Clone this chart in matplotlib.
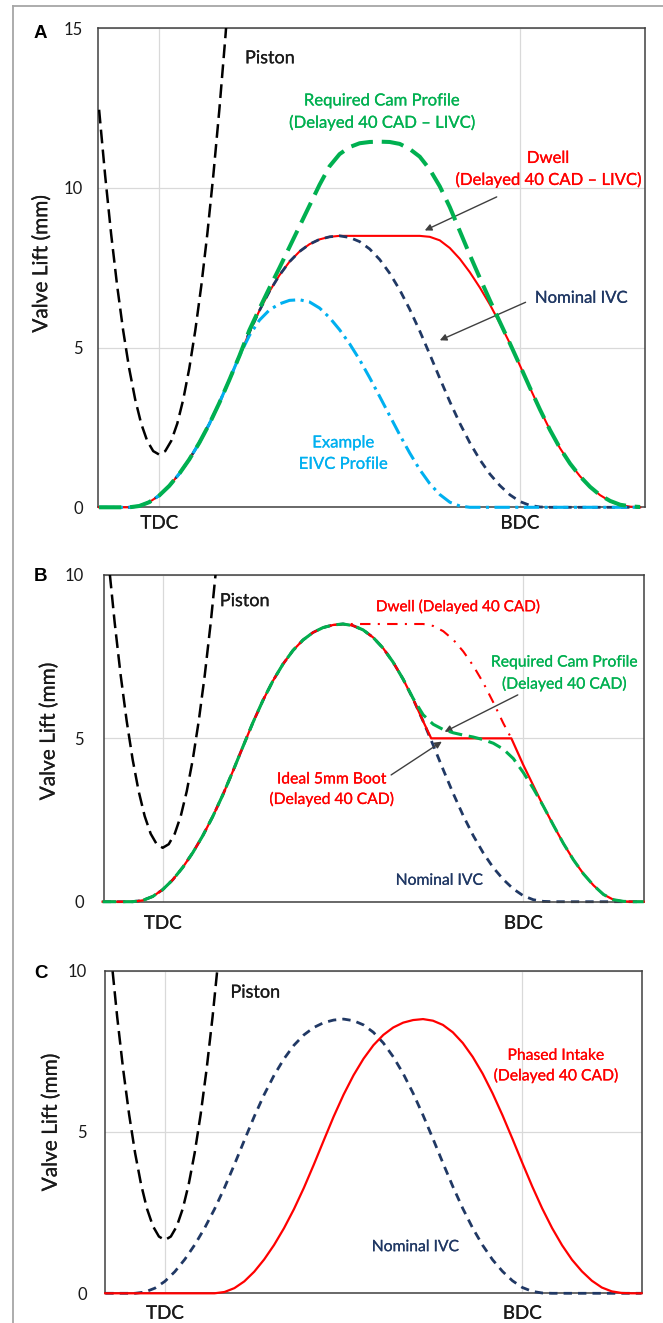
import matplotlib
matplotlib.use("Agg")
import matplotlib.pyplot as plt
import matplotlib.patheffects as pe
from matplotlib.lines import Line2D
from matplotlib.transforms import blended_transform_factory

# crank angle grid (CAD), TDC = 360, BDC = 540
cad = [330, 335, 340, 345, 350, 355, 360, 365, 370, 375,
       380, 385, 390, 395, 400, 405, 410, 415, 420, 425,
       430, 435, 440, 445, 450, 455, 460, 465, 470, 475,
       480, 485, 490, 495, 500, 505, 510, 515, 520, 525,
       530, 535, 540, 545, 550, 555, 560, 565, 570, 575,
       580, 585, 590, 595, 600]

nominal_ivc = [0, 0, 0, 0, 0.04, 0.16, 0.37, 0.67, 1.05, 1.50,
               2.02, 2.61, 3.27, 3.99, 4.74, 5.48, 6.16, 6.76, 7.27, 7.69,
               8.01, 8.24, 8.39, 8.47, 8.50, 8.45, 8.32, 8.09, 7.76, 7.33,
               6.81, 6.20, 5.52, 4.79, 4.04, 3.31, 2.63, 2.02, 1.49, 1.04,
               0.68, 0.39, 0.18, 0.06, 0.01, 0, 0, 0, 0, 0,
               0, 0, 0, 0, 0]

dwell_livc = [0, 0, 0, 0, 0.04, 0.16, 0.37, 0.67, 1.05, 1.50,
              2.02, 2.61, 3.27, 3.99, 4.74, 5.48, 6.16, 6.76, 7.27, 7.69,
              8.01, 8.24, 8.39, 8.47, 8.50, 8.50, 8.50, 8.50, 8.50, 8.50,
              8.50, 8.50, 8.50, 8.47, 8.36, 8.12, 7.78, 7.36, 6.88, 6.35,
              5.76, 5.13, 4.44, 3.74, 3.06, 2.42, 1.85, 1.37, 0.97, 0.64,
              0.38, 0.19, 0.07, 0.02, 0]

required_livc = [0, 0, 0, 0, 0.04, 0.16, 0.37, 0.67, 1.05, 1.50,
                 2.02, 2.61, 3.27, 3.99, 4.74, 5.55, 6.22, 6.87, 7.50, 8.15,
                 8.80, 9.45, 10.10, 10.68, 11.06, 11.28, 11.40, 11.44, 11.45, 11.44,
                 11.38, 11.22, 10.98, 10.58, 10.05, 9.40, 8.65, 7.90, 7.18, 6.48,
                 5.80, 5.13, 4.44, 3.74, 3.06, 2.42, 1.85, 1.37, 0.97, 0.64,
                 0.38, 0.20, 0.08, 0.03, 0.01]

eivc = [0, 0, 0, 0, 0.04, 0.16, 0.37, 0.67, 1.05, 1.50,
        2.02, 2.61, 3.27, 3.99, 4.74, 5.38, 5.86, 6.18, 6.37, 6.48,
        6.50, 6.43, 6.24, 5.94, 5.56, 5.12, 4.62, 4.06, 3.47, 2.87,
        2.27, 1.70, 1.18, 0.74, 0.40, 0.16, 0.04, 0, 0, 0,
        0, 0, 0, 0, 0, 0, 0, 0, 0, 0,
        0, 0, 0, 0, 0]

required_boot = [0, 0, 0, 0, 0.04, 0.16, 0.37, 0.67, 1.05, 1.50,
                 2.02, 2.61, 3.27, 3.99, 4.74, 5.48, 6.16, 6.76, 7.27, 7.69,
                 8.01, 8.24, 8.39, 8.47, 8.50, 8.45, 8.32, 8.09, 7.76, 7.33,
                 6.81, 6.22, 5.72, 5.43, 5.27, 5.17, 5.10, 5.04, 4.96, 4.85,
                 4.67, 4.38, 3.95, 3.46, 2.92, 2.34, 1.78, 1.28, 0.85, 0.50,
                 0.22, 0.06, 0.01, 0, 0]

phased_intake = [0, 0, 0, 0, 0, 0, 0, 0, 0, 0,
                 0, 0, 0.04, 0.16, 0.37, 0.67, 1.05, 1.50, 2.02, 2.61,
                 3.27, 3.99, 4.74, 5.48, 6.16, 6.76, 7.27, 7.69, 8.01, 8.24,
                 8.39, 8.47, 8.50, 8.45, 8.32, 8.09, 7.76, 7.33, 6.81, 6.20,
                 5.52, 4.79, 4.04, 3.31, 2.63, 2.02, 1.49, 1.04, 0.68, 0.39,
                 0.18, 0.06, 0.01, 0, 0]

# ideal 5 mm boot (panel B)
boot_cad = [330, 335, 340, 345, 350, 355, 360, 365, 370, 375,
            380, 385, 390, 395, 400, 405, 410, 415, 420, 425,
            430, 435, 440, 445, 450, 455, 460, 465, 470, 475,
            480, 485, 490, 494, 534, 540, 545, 550, 555, 560,
            565, 570, 575, 580, 585, 590, 595, 600]
boot_lift = [0, 0, 0, 0, 0.04, 0.16, 0.37, 0.67, 1.05, 1.50,
             2.02, 2.61, 3.27, 3.99, 4.74, 5.48, 6.16, 6.76, 7.27, 7.69,
             8.01, 8.24, 8.39, 8.47, 8.50, 8.45, 8.32, 8.09, 7.76, 7.33,
             6.81, 6.20, 5.52, 5.00, 5.00, 4.18, 3.55, 2.92, 2.34, 1.78,
             1.28, 0.85, 0.50, 0.22, 0.06, 0.01, 0, 0]

# dwell, delayed 40 CAD (panel B, dash-dot part)
dwell_b_cad = [445, 450, 455, 460, 465, 470, 475, 480, 485, 490,
               495, 500, 505, 510, 515, 520, 525, 530, 534]
dwell_b_lift = [8.47, 8.50, 8.50, 8.50, 8.50, 8.50, 8.50, 8.50, 8.50, 8.50,
                8.44, 8.28, 8.02, 7.66, 7.22, 6.70, 6.10, 5.46, 5.00]

piston_cad = [330, 333, 336, 339, 342, 345, 348, 351, 354, 357, 360,
              363, 366, 369, 372, 375, 378, 381, 384, 387, 390, 393, 396]
piston = [12.45, 10.40, 8.56, 6.94, 5.54, 4.35, 3.38, 2.62, 2.08, 1.76, 1.65,
          1.76, 2.08, 2.62, 3.38, 4.35, 5.54, 6.94, 8.56, 10.40, 12.45, 14.72, 17.20]

GREEN = '#00b050'
RED = '#ff0000'
NAVY = '#203864'
CYAN = '#00b0f0'
ARROW = '#3f3f3f'
TEXT = '#1a1a1a'

plt.rcParams['font.family'] = ['Lato', 'DejaVu Sans']

W, H = 663, 1323
fig = plt.figure(figsize=(W / 100, H / 100), dpi=100)


def px_axes(left, right, top, bottom):
    return fig.add_axes([left / W, 1 - bottom / H, (right - left) / W, (bottom - top) / H])


def label(ax, x, y, s, color, size, ha='center'):
    t = ax.text(x, y, s, ha=ha, va='center', fontsize=size, color=color)
    t.set_path_effects([pe.withStroke(linewidth=0.15, foreground=color)])
    return t


def style(ax, xlim, ymax, yticks, ypad, xlab_off):
    ax.set_xlim(*xlim)
    ax.set_ylim(0, ymax)
    ax.set_xticks([360, 540])
    ax.set_xticklabels(['', ''])
    ax.set_yticks(yticks)
    ax.tick_params(axis='both', length=0, labelsize=12, pad=ypad, colors=TEXT)
    ax.grid(True, color='#d9d9d9', lw=0.9)
    ax.set_axisbelow(True)
    for s in ax.spines.values():
        s.set_color('#404040')
        s.set_linewidth(1.1)
    trans = blended_transform_factory(ax.transData, ax.transAxes)
    for x, lab in [(360, 'TDC'), (540, 'BDC')]:
        t = ax.text(x, xlab_off, lab, transform=trans, ha='center', va='center',
                    fontsize=13.5, color=TEXT)
        t.set_path_effects([pe.withStroke(linewidth=0.15, foreground=TEXT)])


def arrow(ax, tail, head):
    ax.annotate('', xy=head, xytext=tail,
                arrowprops=dict(arrowstyle='-|>', color=ARROW, lw=1.0,
                                mutation_scale=10, shrinkA=0, shrinkB=0))


# ---------------- panel A ----------------
axA = px_axes(98.3, 645, 28.3, 507.3)
style(axA, (329.6, 602.4), 15, [0, 5, 10, 15], 11, -0.033)
axA.plot(cad, dwell_livc, color=RED, lw=1.5, zorder=3, clip_on=False)
axA.plot(cad, nominal_ivc, color=NAVY, lw=2.0, dashes=(3, 2.2), zorder=4, clip_on=False)
axA.plot(cad, eivc, color=CYAN, lw=2.2, dashes=(5, 1.8, 1, 1.8), zorder=5, clip_on=False)
axA.plot(cad, required_livc, color=GREEN, lw=2.9, dashes=(5.5, 2.2), zorder=6, clip_on=False)
axA.plot(piston_cad, piston, color='black', lw=1.8, dashes=(5.5, 2.5), zorder=4)

label(axA, 402.8, 14.06, 'Piston', TEXT, 13, ha='left')
label(axA, 471, 12.74, 'Required Cam Profile', GREEN, 12)
label(axA, 471, 12.05, '(Delayed 40 CAD \u2013 LIVC)', GREEN, 12)
label(axA, 554, 10.94, 'Dwell', RED, 12)
label(axA, 554, 10.26, '(Delayed 40 CAD \u2013 LIVC)', RED, 12)
label(axA, 570.5, 6.56, 'Nominal IVC', NAVY, 12)
label(axA, 451.8, 2.03, 'Example', CYAN, 12)
label(axA, 451.8, 1.36, 'EIVC Profile', CYAN, 12)
arrow(axA, (528.4, 9.72), (492.5, 8.67))
arrow(axA, (542.8, 6.42), (500.0, 5.23))

# ---------------- panel B ----------------
axB = px_axes(103.6, 643.6, 575, 901.7)
style(axB, (330.5, 600), 10, [0, 5, 10], 14, -0.066)
axB.plot(cad, nominal_ivc, color=NAVY, lw=2.0, dashes=(3, 2.2), zorder=2, clip_on=False)
axB.plot(boot_cad, boot_lift, color=RED, lw=1.6, zorder=3, clip_on=False)
axB.plot(dwell_b_cad, dwell_b_lift, color=RED, lw=1.5, dashes=(5, 3.5, 1, 3.5), zorder=3)
axB.plot(cad, required_boot, color=GREEN, lw=2.2, dashes=(4.5, 2.2), zorder=4, clip_on=False)
axB.plot(piston_cad, piston, color='black', lw=1.8, dashes=(5.5, 2.5), zorder=4)

label(axB, 388.5, 9.2, 'Piston', TEXT, 13, ha='left')
label(axB, 507.3, 9.03, 'Dwell (Delayed 40 CAD)', RED, 11)
label(axB, 560.5, 7.32, 'Required Cam Profile', GREEN, 11.3)
label(axB, 560.5, 6.66, '(Delayed 40 CAD)', GREEN, 11.3)
label(axB, 444.4, 3.74, 'Ideal 5mm Boot', RED, 11.3)
label(axB, 444.4, 3.13, '(Delayed 40 CAD)', RED, 11.3)
label(axB, 498.2, 0.64, 'Nominal IVC', NAVY, 11.3)
arrow(axB, (537.2, 6.33), (500.7, 5.2))
arrow(axB, (474.0, 3.88), (499.3, 4.9))

# ---------------- panel C ----------------
axC = px_axes(104.9, 641.9, 970.7, 1293.3)
style(axC, (329.8, 600.2), 10, [0, 5, 10], 13, -0.062)
axC.plot(cad, nominal_ivc, color=NAVY, lw=2.0, dashes=(3, 2.2), zorder=3, clip_on=False)
axC.plot(cad, phased_intake, color=RED, lw=1.6, zorder=3, clip_on=False)
axC.plot(piston_cad, piston, color='black', lw=1.8, dashes=(5.5, 2.5), zorder=4)

label(axC, 393, 9.32, 'Piston', TEXT, 13, ha='left')
label(axC, 557, 7.36, 'Phased Intake', RED, 11.3)
label(axC, 557, 6.74, '(Delayed 40 CAD)', RED, 11.3)
label(axC, 486.3, 1.43, 'Nominal IVC', NAVY, 11.3)

# y labels and panel letters
for x, y in [(41.2, 263.6), (48.6, 731.2), (50.7, 1122.2)]:
    t = fig.text(x / W, 1 - y / H, 'Valve Lift (mm)', rotation=90, ha='center', va='center',
                 fontsize=15, color=TEXT)
    t.set_path_effects([pe.withStroke(linewidth=0.15, foreground=TEXT)])
for x, y, lab in [(40.3, 33.3, 'A'), (40.2, 576.7, 'B'), (41, 973.3, 'C')]:
    fig.text(x / W, 1 - y / H, lab, ha='center', va='center', fontsize=13.5,
             fontweight='bold', family='Liberation Sans')

# grey frame round the figure
fig.add_artist(Line2D([12.7 / W, 12.7 / W], [0, 1 - 6 / H], color='#a6a6a6', lw=1.3,
                      transform=fig.transFigure))
fig.add_artist(Line2D([12.7 / W, 1], [1 - 6 / H, 1 - 6 / H], color='#a6a6a6', lw=1.3,
                      transform=fig.transFigure))

fig.savefig('out.png', dpi=100)
